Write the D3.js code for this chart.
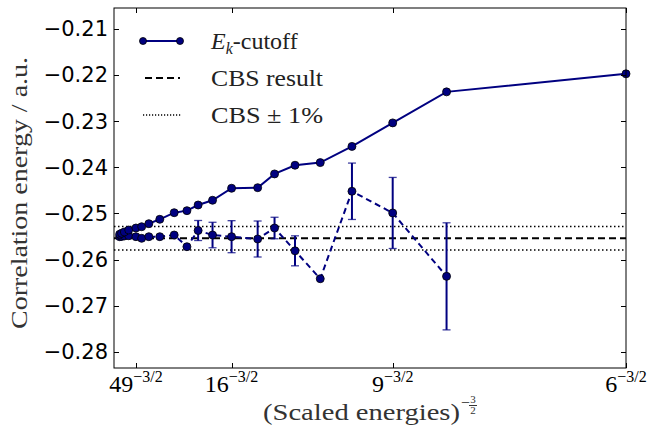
<!DOCTYPE html>
<html><head><meta charset="utf-8">
<script src="https://cdn.jsdelivr.net/npm/d3@7"></script>
<style>body{margin:0;background:#fff}svg{display:block}</style>
</head><body>
<script>
// ---- data ----
const energies = [121, 100, 81, 64, 49, 42, 36, 30, 25, 22, 20, 18, 16, 14, 13, 12, 11, 10, 9, 8, 6];
const cutoffValues = [-0.25453, -0.25432, -0.25403, -0.2536, -0.25317, -0.25289, -0.25223, -0.25128, -0.24985, -0.24941,
  -0.24818, -0.24716, -0.24456, -0.24443, -0.24145, -0.23957, -0.239, -0.23549, -0.23039, -0.22367, -0.21976];
const extrapEnergies = [121, 100, 81, 64, 49, 42, 36, 30, 25, 22, 20, 18, 16, 14, 13, 12, 11, 10, 9, 8];
const extrapValues = [-0.25505, -0.2550, -0.2549, -0.25484, -0.25505, -0.2554, -0.25505, -0.25505, -0.25469, -0.25722,
  -0.25371, -0.25469, -0.25505, -0.25555, -0.25317, -0.25811, -0.26416, -0.24521, -0.24991, -0.26364];
const extrapErrors = [0, 0, 0, 0, 0, 0, 0, 0, 0, 0,
  0.00217, 0.00276, 0.00347, 0.0039, 0.00233, 0.00325, 0, 0.00611, 0.0077, 0.0116];
const cbsResult = -0.25537;
const cbsBand = 0.01;
const xTickEnergies = [49, 16, 9, 6];
const yTicks = [-0.28, -0.27, -0.26, -0.25, -0.24, -0.23, -0.22, -0.21];
const legendLabels = ["cutoff", "CBS result", "CBS \u00b1 1%"];

// ---- layout ----
const W = 662, H = 429;
const L = 114, R = 626, T = 8, B = 368;
const navy = "#000080";

const svg = d3.select("body").append("svg").attr("width", W).attr("height", H);
svg.append("rect").attr("width", W).attr("height", H).attr("fill", "#fff");

const x = d3.scalePow().exponent(-1.5).domain([1e12, 6]).range([L, R]);
const y = d3.scaleLinear().domain([-0.2835, -0.2055]).range([B, T]);

const plot = svg.append("g");

// CBS lines
plot.append("line").attr("x1", L).attr("x2", R).attr("y1", y(cbsResult)).attr("y2", y(cbsResult))
  .attr("stroke", "#000").attr("stroke-width", 2).attr("stroke-dasharray", "7,4");
[1 + cbsBand, 1 - cbsBand].forEach(f => {
  plot.append("line").attr("x1", L).attr("x2", R).attr("y1", y(cbsResult * f)).attr("y2", y(cbsResult * f))
    .attr("stroke", "#000").attr("stroke-width", 1.5).attr("stroke-dasharray", "1.5,2.5");
});

// extrapolated series (dashed with error bars)
const ext = extrapEnergies.map((e, i) => ({e, v: extrapValues[i], err: extrapErrors[i]}));
plot.append("path").datum(ext)
  .attr("d", d3.line().x(d => x(d.e)).y(d => y(d.v)))
  .attr("fill", "none").attr("stroke", navy).attr("stroke-width", 2).attr("stroke-dasharray", "6,4");
const eb = plot.append("g").selectAll("g").data(ext.filter(d => d.err > 0)).join("g");
eb.append("line").attr("x1", d => x(d.e)).attr("x2", d => x(d.e))
  .attr("y1", d => y(d.v - d.err)).attr("y2", d => y(d.v + d.err))
  .attr("stroke", navy).attr("stroke-width", 2);
[-1, 1].forEach(s => {
  eb.append("line").attr("x1", d => x(d.e) - 4).attr("x2", d => x(d.e) + 4)
    .attr("y1", d => y(d.v + s * d.err)).attr("y2", d => y(d.v + s * d.err))
    .attr("stroke", navy).attr("stroke-width", 1.3).attr("stroke-opacity", 0.75);
});
plot.append("g").selectAll("circle").data(ext).join("circle")
  .attr("cx", d => x(d.e)).attr("cy", d => y(d.v)).attr("r", 4)
  .attr("fill", navy).attr("stroke", "#000").attr("stroke-width", 0.8);

// cutoff series
const cut = energies.map((e, i) => ({e, v: cutoffValues[i]}));
plot.append("path").datum(cut)
  .attr("d", d3.line().x(d => x(d.e)).y(d => y(d.v)))
  .attr("fill", "none").attr("stroke", navy).attr("stroke-width", 2);
plot.append("g").selectAll("circle").data(cut).join("circle")
  .attr("cx", d => x(d.e)).attr("cy", d => y(d.v)).attr("r", 4)
  .attr("fill", navy).attr("stroke", "#000").attr("stroke-width", 0.8);

// frame
svg.append("rect").attr("x", L).attr("y", T).attr("width", R - L).attr("height", B - T)
  .attr("fill", "none").attr("stroke", "#000").attr("stroke-width", 1);

// y ticks
const tk = 5;
yTicks.forEach(t => {
  const yy = Math.round(y(t)) + 0.5;
  svg.append("line").attr("x1", L).attr("x2", L + tk).attr("y1", yy).attr("y2", yy).attr("stroke", "#000");
  svg.append("line").attr("x1", R - tk).attr("x2", R).attr("y1", yy).attr("y2", yy).attr("stroke", "#000");
  svg.append("text").attr("x", L - 6).attr("y", y(t)).attr("dy", "0.36em")
    .attr("text-anchor", "end").attr("font-family", "DejaVu Sans").attr("font-size", 21)
    .text("\u2212" + Math.abs(t).toFixed(2));
});

// x ticks
const serif = "'Liberation Serif', 'DejaVu Serif', serif";
xTickEnergies.forEach(e => {
  const xx = Math.round(x(e)) + 0.5;
  svg.append("line").attr("x1", xx).attr("x2", xx).attr("y1", B).attr("y2", B - tk).attr("stroke", "#000");
  svg.append("line").attr("x1", xx).attr("x2", xx).attr("y1", T).attr("y2", T + tk).attr("stroke", "#000");
  const tx = svg.append("text").attr("x", x(e)).attr("y", 392).attr("text-anchor", "middle")
    .attr("font-family", serif).attr("font-size", 24);
  tx.append("tspan").text(e);
  tx.append("tspan").attr("font-size", 16).attr("dy", -10).text("\u22123/2");
});

// axis labels
svg.append("text").attr("transform", "translate(27,193) rotate(-90)").attr("text-anchor", "middle")
  .attr("font-family", serif).attr("font-size", 24).attr("fill", "#333")
  .attr("textLength", 272).attr("lengthAdjust", "spacingAndGlyphs")
  .text("Correlation energy / a.u.");
svg.append("text").attr("x", 263).attr("y", 420)
  .attr("font-family", serif).attr("font-size", 23).attr("fill", "#333")
  .attr("textLength", 197).attr("lengthAdjust", "spacingAndGlyphs")
  .text("(Scaled energies)");
svg.append("text").attr("x", 461).attr("y", 408).attr("font-family", serif).attr("font-size", 16).attr("fill", "#333").text("\u2212");
svg.append("text").attr("x", 473).attr("y", 403).attr("text-anchor", "middle").attr("font-family", serif).attr("font-size", 11).attr("fill", "#333").text("3");
svg.append("line").attr("x1", 469).attr("x2", 477).attr("y1", 405.5).attr("y2", 405.5).attr("stroke", "#333").attr("stroke-width", 1);
svg.append("text").attr("x", 473).attr("y", 414).attr("text-anchor", "middle").attr("font-family", serif).attr("font-size", 11).attr("fill", "#333").text("2");

// legend
const lg = svg.append("g");
const ly = [41, 78, 115];
lg.append("line").attr("x1", 143).attr("x2", 180).attr("y1", ly[0]).attr("y2", ly[0]).attr("stroke", navy).attr("stroke-width", 2);
[143, 180].forEach(cx => lg.append("circle").attr("cx", cx).attr("cy", ly[0]).attr("r", 3.5)
  .attr("fill", navy).attr("stroke", "#000").attr("stroke-width", 0.8));
lg.append("line").attr("x1", 145).attr("x2", 180).attr("y1", ly[1]).attr("y2", ly[1]).attr("stroke", "#000").attr("stroke-width", 2).attr("stroke-dasharray", "7,4");
lg.append("line").attr("x1", 143).attr("x2", 181).attr("y1", ly[2]).attr("y2", ly[2]).attr("stroke", "#000").attr("stroke-width", 1.3).attr("stroke-dasharray", "1.2,1.8");
const t0 = lg.append("text").attr("x", 211).attr("y", ly[0] + 8).attr("font-family", serif).attr("font-size", 24).attr("fill", "#222");
t0.append("tspan").attr("font-style", "italic").text("E");
t0.append("tspan").attr("font-style", "italic").attr("font-size", 16).attr("dy", 5).text("k");
t0.append("tspan").attr("dy", -5).text("-" + legendLabels[0]);
lg.append("text").attr("x", 211).attr("y", ly[1] + 8).attr("font-family", serif).attr("font-size", 24).attr("fill", "#222")
  .attr("textLength", 112).attr("lengthAdjust", "spacingAndGlyphs").text(legendLabels[1]);
lg.append("text").attr("x", 211).attr("y", ly[2] + 8).attr("font-family", serif).attr("font-size", 24).attr("fill", "#222")
  .attr("textLength", 112).attr("lengthAdjust", "spacingAndGlyphs").text(legendLabels[2]);
</script>
</body></html>
